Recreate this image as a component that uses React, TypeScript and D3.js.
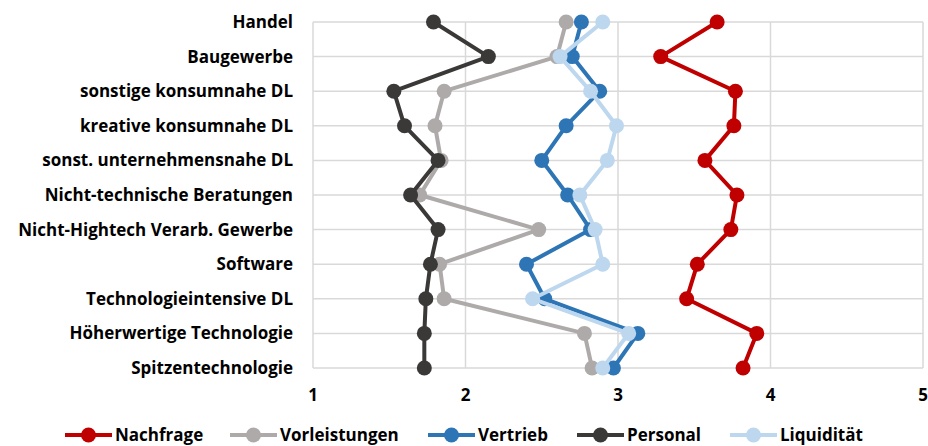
import React from "react";
import * as d3 from "d3";

const categories = [
  "Handel",
  "Baugewerbe",
  "sonstige konsumnahe DL",
  "kreative konsumnahe DL",
  "sonst. unternehmensnahe DL",
  "Nicht-technische Beratungen",
  "Nicht-Hightech Verarb. Gewerbe",
  "Software",
  "Technologieintensive DL",
  "Höherwertige Technologie",
  "Spitzentechnologie",
];

const nachfrage = [3.65, 3.28, 3.77, 3.76, 3.57, 3.78, 3.74, 3.52, 3.45, 3.91, 3.82];
const vorleistungen = [2.66, 2.6, 1.86, 1.8, 1.84, 1.7, 2.48, 1.83, 1.86, 2.78, 2.83];
const vertrieb = [2.76, 2.7, 2.88, 2.66, 2.5, 2.67, 2.82, 2.4, 2.52, 3.13, 2.97];
const personal = [1.79, 2.15, 1.53, 1.6, 1.82, 1.64, 1.82, 1.77, 1.74, 1.73, 1.73];
const liquiditaet = [2.9, 2.62, 2.82, 2.99, 2.93, 2.75, 2.85, 2.9, 2.44, 3.07, 2.9];

const seriesNames = ["Nachfrage", "Vorleistungen", "Vertrieb", "Personal", "Liquidität"];
const seriesValues = [nachfrage, vorleistungen, vertrieb, personal, liquiditaet];
const seriesColors = ["#C00000", "#AEAAAA", "#2E75B6", "#3B3838", "#BDD7EE"];
const xTicks = [1, 2, 3, 4, 5];

const W = 928;
const H = 446;
const FONT = "'Open Sans', 'Noto Sans', sans-serif";

export default function App() {
  const x = d3.scaleLinear().domain([1, 5]).range([313, 923]);
  const y = d3.scalePoint<string>().domain(categories).range([22, 368]);

  const line = d3
    .line<[number, string]>()
    .x((d) => x(d[0]))
    .y((d) => y(d[1]) as number);

  const legendX = [65, 230, 428, 577, 730];

  return (
    <svg
      width={W}
      height={H}
      style={{ position: "absolute", left: 0, top: 0, background: "#fff" }}
      fontFamily={FONT}
    >
      {/* grid */}
      {categories.map((c) => (
        <line
          key={"h" + c}
          x1={x(1)}
          x2={x(5)}
          y1={y(c)}
          y2={y(c)}
          stroke="#D9D9D9"
          strokeWidth={1.5}
        />
      ))}
      {xTicks.map((t) => (
        <line
          key={"v" + t}
          x1={x(t)}
          x2={x(t)}
          y1={y(categories[0])}
          y2={y(categories[categories.length - 1])}
          stroke="#D9D9D9"
          strokeWidth={1.5}
        />
      ))}
      {/* category labels */}
      {categories.map((c) => (
        <text
          key={"l" + c}
          x={293}
          y={(y(c) as number) + 6}
          textAnchor="end"
          fontSize={17}
          fontWeight={700}
          fill="#000"
        >
          {c}
        </text>
      ))}
      {/* x tick labels */}
      {xTicks.map((t) => (
        <text
          key={"t" + t}
          x={x(t)}
          y={401}
          textAnchor="middle"
          fontSize={17}
          fontWeight={700}
          fill="#000"
        >
          {t}
        </text>
      ))}
      {/* series */}
      {seriesValues.map((vals, i) => {
        const pts: [number, string][] = vals.map((v, k) => [v, categories[k]]);
        return (
          <g key={"s" + i}>
            <path
              d={line(pts) || ""}
              fill="none"
              stroke={seriesColors[i]}
              strokeWidth={4}
              strokeLinejoin="round"
            />
            {pts.map((p, k) => (
              <circle
                key={k}
                cx={x(p[0])}
                cy={y(p[1]) as number}
                r={7.5}
                fill={seriesColors[i]}
              />
            ))}
          </g>
        );
      })}
      {/* legend */}
      {seriesNames.map((n, i) => (
        <g key={"lg" + i} transform={`translate(${legendX[i]},435)`}>
          <line x1={0} x2={47} y1={0} y2={0} stroke={seriesColors[i]} strokeWidth={4} />
          <circle cx={23.5} cy={0} r={7.5} fill={seriesColors[i]} />
          <text x={50} y={6} fontSize={17} fontWeight={700} fill="#000">
            {n}
          </text>
        </g>
      ))}
    </svg>
  );
}
